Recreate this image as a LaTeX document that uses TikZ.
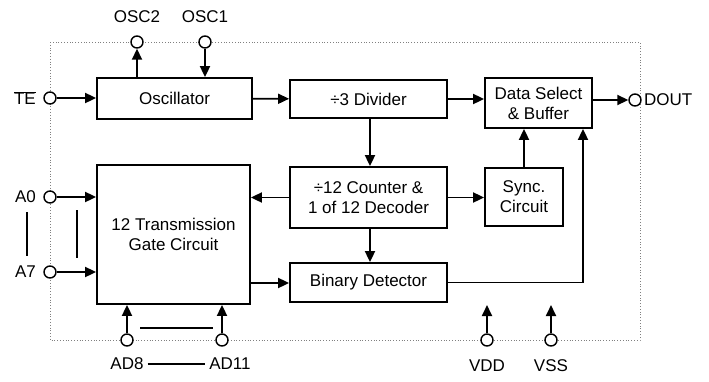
\documentclass[tikz,border=0pt]{standalone}
\usepackage{fontspec}
\setmainfont{Liberation Sans}
\usetikzlibrary{arrows.meta}
\begin{document}
\begin{tikzpicture}[x=1pt,y=-1pt,
  every node/.style={font=\fontsize{17}{20}\selectfont},
  block/.style={draw, line width=1.8pt, inner sep=0pt, align=center},
  pin/.style={draw, line width=1.4pt, circle, fill=white, minimum size=12pt, inner sep=0pt},
  sig/.style={line width=1.8pt, -{Triangle[length=11pt,width=10pt]}},
  wire/.style={line width=1.8pt},
  lbl/.style={inner sep=1pt}]
\useasboundingbox (0,0) rectangle (709,381);

% chip outline
\draw[gray, dotted, line width=0.8pt] (50,42) rectangle (640,340);

% function blocks
\node[block, minimum width=155pt, minimum height=41pt] (osc) at (174.5,98.5) {Oscillator};
\node[block, minimum width=157pt, minimum height=38pt] (div) at (368.5,99) {÷3 Divider};
\node[block, minimum width=107pt, minimum height=50pt] (dsb) at (538.5,103) {Data Select\\ \& Buffer};
\node[block, minimum width=157pt, minimum height=61pt] (cnt) at (368.5,197.5) {÷12 Counter \&\\ 1 of 12 Decoder};
\node[block, minimum width=78pt, minimum height=58pt] (sync) at (524,197) {Sync.\\ Circuit};
\node[block, minimum width=153pt, minimum height=139pt] (tgc) at (173.5,234.5) {12 Transmission\\ Gate Circuit};
\node[block, minimum width=157pt, minimum height=39pt] (bin) at (368.5,282.5) {Binary Detector};

% pins
\node[pin] (osc2) at (137,42) {};
\node[pin] (osc1) at (205,42) {};
\node[pin] (te) at (50,98) {};
\node[pin] (a0) at (50,197) {};
\node[pin] (a7) at (50,272) {};
\node[pin] (ad8) at (127,340) {};
\node[pin] (ad11) at (222,340) {};
\node[pin] (vdd) at (487,340) {};
\node[pin] (vss) at (551,340) {};
\node[pin] (dout) at (635,100) {};

% pin labels
\node[lbl] (losc2) at (137,17) {OSC2};
\node[lbl] (losc1) at (205,17) {OSC1};
\node[lbl, anchor=east] (lte) at (37,98) {$\overline{\mbox{TE}}$};
\node[lbl, anchor=east] (la0) at (37,197) {A0};
\node[lbl, anchor=east] (la7) at (37,272) {A7};
\node[lbl] (lad8) at (127,364) {AD8};
\node[lbl] (lad11) at (230,364) {AD11};
\node[lbl] (lvdd) at (487,366) {VDD};
\node[lbl] (lvss) at (551,366) {VSS};
\node[lbl, anchor=west] (ldout) at (643,100) {DOUT};

% range marks
\coordinate (r1a) at (27,212); \coordinate (r1b) at (27,256);
\coordinate (r2a) at (77,210); \coordinate (r2b) at (77,258);
\draw[line width=1.4pt] (r1a) -- (r1b);
\draw[wire] (r2a) -- (r2b);
\coordinate (r3a) at (140,328); \coordinate (r3b) at (213,328);
\draw[wire] (r3a) -- (r3b);
\draw[line width=1.1pt, shorten <=3pt, shorten >=3pt] (lad8.east) -- (lad11.west);

% signal flow
\draw[sig] (te) -- (osc.west |- te);
\draw[sig] (osc.north -| osc2) -- (osc2);
\draw[sig] (osc1) -- (osc.north -| osc1);
\draw[sig] (osc) -- (div);
\draw[sig] (div.east) -- (dsb.west |- div.east);
\draw[sig] (dsb.east |- dout) -- (dout);
\draw[sig] ([xshift=1.5pt]div.south) -- ([xshift=1.5pt]cnt.north);
\draw[sig] ([xshift=1.5pt]cnt.south) -- ([xshift=1.5pt]bin.north);
\draw[sig] (cnt.west) -- (tgc.east |- cnt.west);
\draw[sig] (cnt.east) -- (sync.west |- cnt.east);
\draw[sig] (sync.north) -- (dsb.south -| sync.north);
\coordinate (bend) at (583,282.5);
\draw[sig] (bin.east) -- (bend) -- (dsb.south -| bend);
\draw[sig] (a0) -- (tgc.west |- a0);
\draw[sig] (a7) -- (tgc.west |- a7);
\draw[sig] (tgc.east |- 0,283) -- (bin.west |- 0,283);
\draw[sig] (ad8) -- (tgc.south -| ad8);
\draw[sig] (ad11) -- (tgc.south -| ad11);
\coordinate (vddend) at (487,305);
\coordinate (vssend) at (551,305);
\draw[sig] (vdd) -- (vddend);
\draw[sig] (vss) -- (vssend);
\end{tikzpicture}
\end{document}
